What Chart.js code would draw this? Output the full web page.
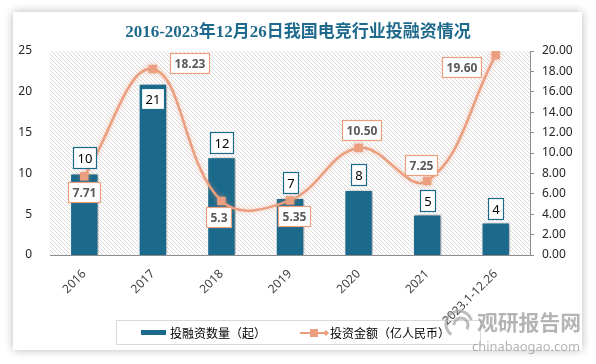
<!DOCTYPE html>
<html>
<head>
<meta charset="utf-8">
<script src="https://cdn.jsdelivr.net/npm/chart.js@4.4.1/dist/chart.umd.min.js"></script>
<style>
  html, body { margin: 0; padding: 0; background: #fff; }
  #wrap { position: relative; width: 596px; height: 364px; overflow: hidden; }
  #card {
    position: absolute; left: 13px; top: 12px; width: 569px; height: 338px;
    background: #fff; box-shadow: 0 0 9px rgba(0, 0, 0, 0.28);
  }
  #chart { position: absolute; left: 0; top: 0; }
</style>
</head>
<body>
<div id="wrap">
  <div id="card"></div>
  <canvas id="chart" width="596" height="364"></canvas>
</div>
<script>
"use strict";

const TITLE = "2016-2023年12月26日我国电竞行业投融资情况";
const years = ["2016", "2017", "2018", "2019", "2020", "2021", "2023.1-12.26"];
const dealCounts = [10, 21, 12, 7, 8, 5, 4];
const amounts = [7.71, 18.23, 5.3, 5.35, 10.5, 7.25, 19.6];
const amountLabels = ["7.71", "18.23", "5.3", "5.35", "10.50", "7.25", "19.60"];
const countLegend = "投融资数量（起）";
const amountLegend = "投资金额（亿人民币）";

const BAR_COLOR = "#1b6a8c";
const LINE_COLOR = "#eb9f7e";

// where the boxed labels sit, relative to the mark
const barLabelDy = [-16, 15, -15, -15, -15, -14, -14];
const lineLabelOffset = [[0, 16], [37, -6], [-3, 16], [4, 16], [3, -18], [-6, -16], [-34, 12]];

function makeHatch() {
  const c = document.createElement("canvas");
  c.width = 4; c.height = 4;
  const g = c.getContext("2d");
  g.fillStyle = "#fff";
  g.fillRect(0, 0, 4, 4);
  g.strokeStyle = "#dadada";
  g.lineWidth = 1;
  g.beginPath();
  g.moveTo(-1, -1); g.lineTo(5, 5);
  g.moveTo(-1, 3); g.lineTo(1, 5);
  g.moveTo(3, -1); g.lineTo(5, 1);
  g.stroke();
  return c;
}

function labelBox(ctx, text, cx, cy, font, color, border, padX, h) {
  ctx.save();
  ctx.font = font;
  const w = Math.round(ctx.measureText(text).width + padX * 2);
  const x = Math.round(cx - w / 2) + 0.5;
  const y = Math.round(cy - h / 2) + 0.5;
  ctx.fillStyle = "#fff";
  ctx.fillRect(x, y, w, h);
  ctx.strokeStyle = border;
  ctx.lineWidth = 1.2;
  ctx.strokeRect(x, y, w, h);
  ctx.fillStyle = color;
  ctx.textAlign = "center";
  ctx.textBaseline = "middle";
  ctx.fillText(text, x + w / 2, y + h / 2 + 1);
  ctx.restore();
}

const decor = {
  id: "decor",
  beforeDraw(chart) {
    const { ctx, chartArea: a } = chart;
    ctx.save();
    ctx.fillStyle = ctx.createPattern(makeHatch(), "repeat");
    ctx.fillRect(a.left, a.top, a.right - a.left, a.bottom - a.top);
    ctx.restore();
  },
  beforeDatasetDraw(chart, args) {
    const ctx = chart.ctx;
    ctx.save();
    if (args.meta.type === "bar") {
      ctx.shadowColor = "rgba(0,0,0,0.35)";
      ctx.shadowBlur = 4;
      ctx.shadowOffsetX = 2;
      ctx.shadowOffsetY = 0;
    } else {
      ctx.shadowColor = "rgba(235,150,120,0.5)";
      ctx.shadowBlur = 5;
    }
  },
  afterDatasetDraw(chart) {
    chart.ctx.restore();
  },
  afterDraw(chart) {
    const ctx = chart.ctx;

    // title
    ctx.save();
    ctx.font = "bold 17px 'Liberation Serif', 'Noto Sans CJK SC'";
    ctx.fillStyle = "#1f6a8c";
    ctx.textAlign = "center";
    ctx.textBaseline = "middle";
    ctx.fillText(TITLE, 298, 33);
    ctx.restore();

    // value boxes
    const barMeta = chart.getDatasetMeta(0);
    const lineMeta = chart.getDatasetMeta(1);
    barMeta.data.forEach((bar, i) => {
      labelBox(ctx, String(dealCounts[i]), bar.x, bar.y + barLabelDy[i],
        "13px 'Noto Sans'", "#000", BAR_COLOR, 4, 21);
    });
    lineMeta.data.forEach((pt, i) => {
      const [dx, dy] = lineLabelOffset[i];
      labelBox(ctx, amountLabels[i], pt.x + dx, pt.y + dy,
        "bold 12px 'Noto Sans'", "#595959", LINE_COLOR, 4, 20);
    });

    // legend
    ctx.save();
    ctx.strokeStyle = "#d9d9d9";
    ctx.lineWidth = 1;
    ctx.strokeRect(116.5, 320.5, 364, 24);
    ctx.fillStyle = BAR_COLOR;
    ctx.fillRect(141, 330, 25, 5);
    ctx.font = "12px 'Noto Sans CJK SC'";
    ctx.fillStyle = "#000";
    ctx.textBaseline = "middle";
    ctx.fillText(countLegend, 170, 333);
    ctx.strokeStyle = LINE_COLOR;
    ctx.lineWidth = 2;
    ctx.beginPath();
    ctx.moveTo(300, 333); ctx.lineTo(326, 333);
    ctx.stroke();
    ctx.fillStyle = LINE_COLOR;
    ctx.fillRect(310, 329, 8, 8);
    ctx.beginPath();
    ctx.moveTo(326, 330); ctx.lineTo(329, 333); ctx.lineTo(326, 336); ctx.lineTo(323, 333);
    ctx.closePath(); ctx.fill();
    ctx.fillStyle = "#000";
    ctx.fillText(amountLegend, 330, 333);
    ctx.restore();

    // watermark
    ctx.save();
    ctx.globalAlpha = 0.65;
    ctx.strokeStyle = "#9a9a9a";
    ctx.lineWidth = 3;
    ctx.beginPath(); ctx.arc(459, 324, 13, Math.PI * 0.7, Math.PI * 1.9); ctx.stroke();
    ctx.beginPath(); ctx.arc(461, 325, 7, Math.PI * 1.0, Math.PI * 2.2); ctx.stroke();
    ctx.fillStyle = "#8c8c8c";
    ctx.font = "bold 21px 'Noto Sans CJK SC'";
    ctx.textBaseline = "middle";
    ctx.fillText("观研报告网", 477, 322, 104);
    ctx.font = "13px 'Noto Sans'";
    ctx.fillText("chinabaogao.com", 472, 347, 108);
    ctx.restore();
  },
};

const tickFont = { family: "'Noto Sans'", size: 12 };

new Chart(document.getElementById("chart"), {
  data: {
    labels: years,
    datasets: [
      {
        type: "bar",
        label: countLegend,
        data: dealCounts,
        yAxisID: "y",
        backgroundColor: BAR_COLOR,
        borderColor: "#fff",
        borderWidth: 1.2,
        barPercentage: 0.42,
        categoryPercentage: 1,
        order: 2,
      },
      {
        type: "line",
        label: amountLegend,
        data: amounts,
        yAxisID: "y1",
        borderColor: LINE_COLOR,
        backgroundColor: LINE_COLOR,
        borderWidth: 2.5,
        tension: 0.4,
        pointStyle: "rect",
        pointRadius: 6,
        pointBorderWidth: 0,
        order: 1,
      },
    ],
  },
  options: {
    responsive: false,
    animation: false,
    layout: { padding: { top: 51, left: 0, right: 0, bottom: 0 } },
    plugins: { legend: { display: false }, tooltip: { enabled: false } },
    scales: {
      x: {
        grid: { display: false },
        border: { display: true, color: "#8c8c8c", width: 1 },
        ticks: { color: "#404040", font: tickFont, maxRotation: 45, minRotation: 45, padding: 4 },
        afterFit(s) { s.height = 109; },
      },
      y: {
        position: "left",
        min: 0, max: 25,
        grid: { display: false },
        border: { display: false },
        ticks: { stepSize: 5, color: "#262626", font: tickFont, padding: 10 },
        afterFit(s) { s.width = 50; },
      },
      y1: {
        position: "right",
        min: 0, max: 20,
        grid: { drawOnChartArea: false, drawTicks: true, tickLength: 4, color: "#8c8c8c" },
        border: { display: true, color: "#8c8c8c", width: 1 },
        ticks: { stepSize: 2, color: "#262626", font: tickFont, padding: 8,
          callback: v => v.toFixed(2) },
        afterFit(s) { s.width = 66; },
      },
    },
  },
  plugins: [decor],
});
</script>
</body>
</html>
